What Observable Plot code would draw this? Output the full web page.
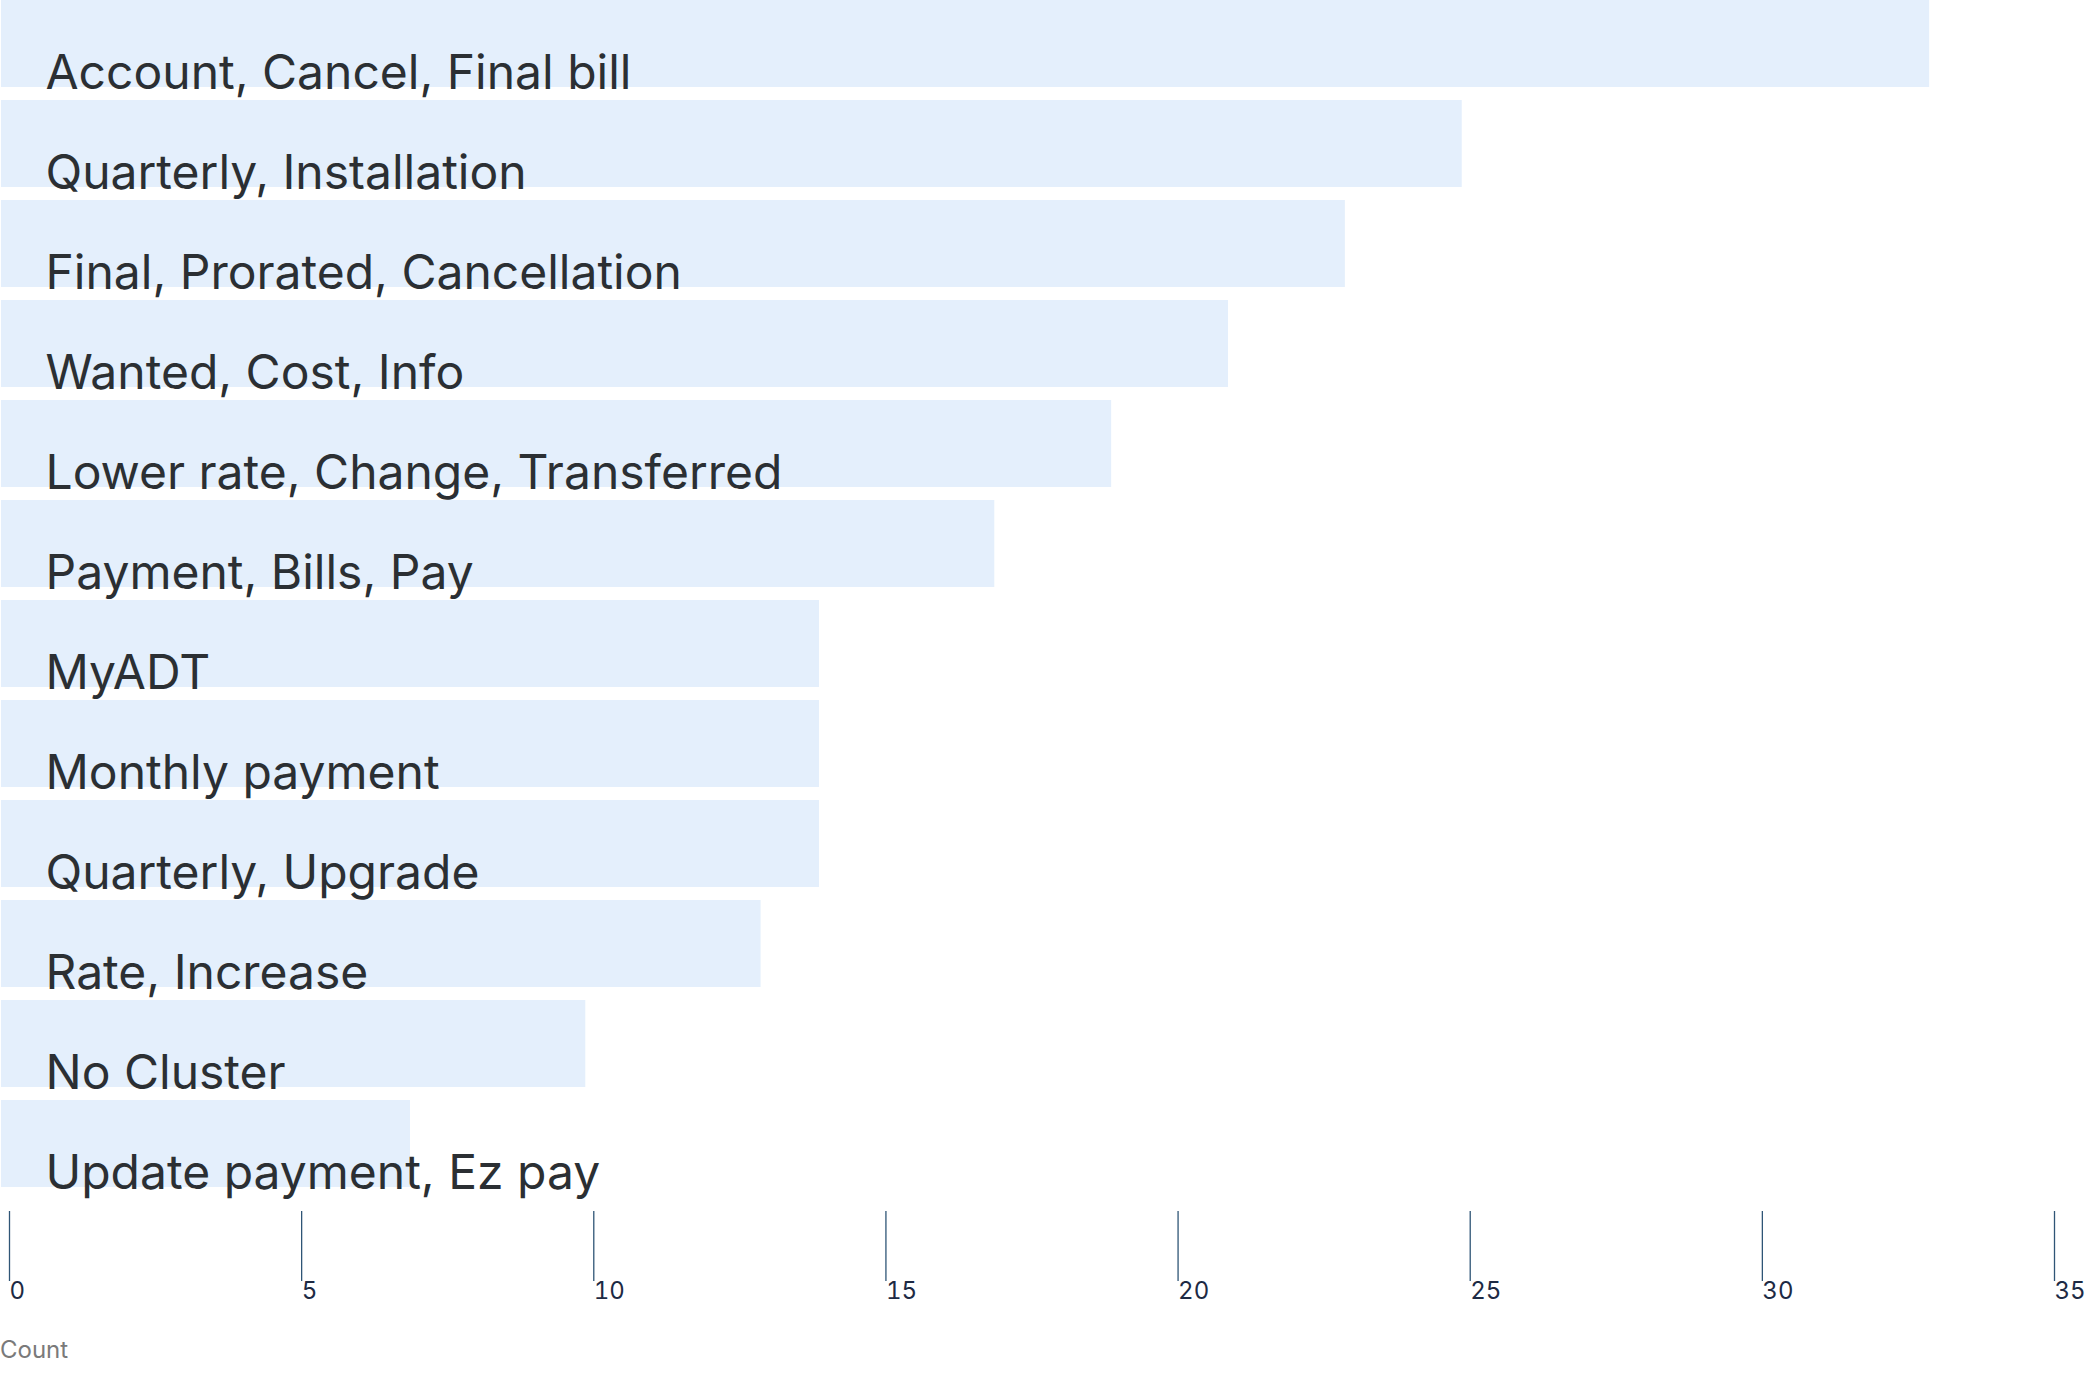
<!DOCTYPE html>
<html><head><meta charset="utf-8">
<script src="https://cdn.jsdelivr.net/npm/d3@7"></script>
<script src="https://cdn.jsdelivr.net/npm/@observablehq/plot@0.6"></script>
<style>body{margin:0;background:#fff;font-family:Inter,sans-serif}#cap{font-size:24px;color:#7a7a7a;padding-left:0;line-height:40px}</style>
</head><body><div id="chart"></div><div id="cap">Count</div>
<script>
const categories = ["Account, Cancel, Final bill","Quarterly, Installation","Final, Prorated, Cancellation","Wanted, Cost, Info","Lower rate, Change, Transferred","Payment, Bills, Pay","MyADT","Monthly payment","Quarterly, Upgrade","Rate, Increase","No Cluster","Update payment, Ez pay"];
const counts = [33,25,23,21,19,17,14,14,14,13,10,7];
const xTicks = [0,5,10,15,20,25,30,35];
const data = categories.map((c,i)=>({c, v:counts[i]}));
const chart = Plot.plot({
  width:2086, height:1330, marginLeft:1, marginRight:40, marginTop:0, marginBottom:87,
  style:{fontFamily:"Inter, sans-serif"},
  x:{domain:[0,35]},
  y:{domain:categories, range:[0,1187], paddingInner:0.13, paddingOuter:0, axis:null},
  marks:[
    Plot.barX(data,{y:"c", x:"v", fill:"#e4effc"}),
    Plot.text(data,{y:"c", x:0, text:"c", dx:44, dy:30, textAnchor:"start", fontSize:48, fill:"#2b2f33"}),
    Plot.axisX({ticks:xTicks, tickSize:70, tickPadding:0, textAnchor:"start", dx:8, dy:-32, fontSize:24, fill:"#1d2a44", stroke:"#2f5576", strokeWidth:1.3, label:null})
  ]
});
document.getElementById("chart").append(chart);
</script></body></html>
